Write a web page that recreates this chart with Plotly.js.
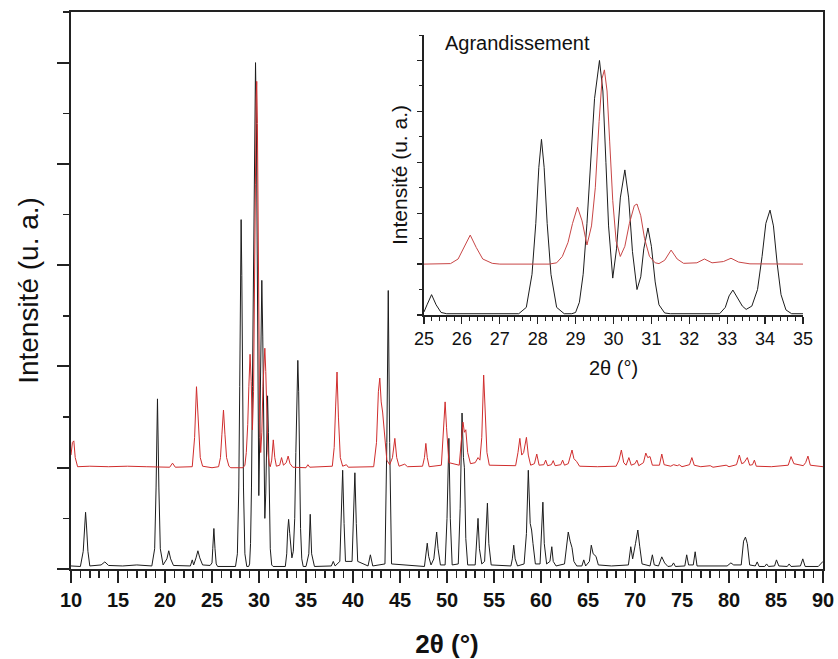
<!DOCTYPE html>
<html><head><meta charset="utf-8">
<script src="https://cdn.plot.ly/plotly-3.0.1.min.js"></script>
<style>html,body{margin:0;padding:0;background:#fff}</style>
</head><body><div id="chart" style="width:838px;height:659px"></div>
<script>
// 2θ (°), intensity (a.u.) — black pattern
const blackPattern = [
[10.0,0.06],[11.0,0.05],[11.3,0.35],[11.45,0.85],[11.55,1.12],[11.65,0.85],[11.8,0.35],[12.0,0.06],
[13.2,0.08],[13.6,0.14],[14.0,0.07],[15.5,0.06],[17.0,0.08],[18.6,0.06],
[18.9,0.4],[19.05,1.6],[19.2,3.36],[19.35,1.6],[19.5,0.4],[19.8,0.08],
[20.2,0.2],[20.4,0.36],[20.6,0.2],[20.9,0.07],[22.7,0.06],[22.9,0.18],[23.05,0.08],
[23.3,0.22],[23.5,0.36],[23.7,0.22],[24.0,0.08],[24.8,0.07],
[25.0,0.12],[25.08,0.4],[25.2,0.8],[25.32,0.4],[25.45,0.1],[25.6,0.05],
[27.5,0.05],[27.7,0.3],[27.85,1.6],[27.95,3.6],[28.03,5.8],[28.1,6.9],[28.17,5.8],[28.25,3.6],[28.35,1.6],[28.5,0.3],[28.7,0.05],
[28.9,0.05],[29.0,0.1],[29.1,0.5],[29.2,1.6],[29.3,3.6],[29.4,6.0],[29.5,8.5],[29.63,10.0],[29.72,8.8],[29.8,6.0],[29.87,3.5],
[29.98,1.45],[30.08,2.6],[30.18,4.6],[30.3,5.7],[30.4,4.6],[30.5,2.5],[30.62,1.0],
[30.72,1.5],[30.8,2.6],[30.91,3.42],[31.0,2.7],[31.1,1.3],[31.2,0.4],[31.35,0.08],[31.5,0.05],
[32.8,0.05],[32.95,0.3],[33.05,0.75],[33.15,0.98],[33.27,0.7],[33.4,0.35],[33.5,0.22],[33.65,0.35],
[33.8,1.0],[33.92,2.3],[34.02,3.6],[34.13,4.12],[34.22,3.5],[34.32,2.0],[34.42,0.8],[34.55,0.2],[34.7,0.05],
[35.0,0.05],[35.3,0.3],[35.45,1.08],[35.6,0.3],[35.9,0.05],
[37.7,0.06],[37.9,0.15],[38.1,0.06],[38.6,0.15],[38.75,0.9],[38.9,1.95],[39.05,0.9],[39.2,0.15],
[39.9,0.15],[40.05,0.9],[40.2,1.9],[40.35,0.9],[40.5,0.15],[41.6,0.06],[41.85,0.28],[42.1,0.06],
[43.4,0.1],[43.6,2.5],[43.75,5.5],[43.9,2.5],[44.1,0.1],
[47.6,0.05],[47.75,0.25],[47.9,0.51],[48.05,0.25],[48.3,0.08],[48.6,0.2],[48.8,0.55],[48.9,0.73],[49.05,0.4],[49.3,0.08],
[49.8,0.08],[50.0,1.0],[50.2,2.58],[50.35,1.0],[50.55,0.08],
[51.2,0.1],[51.4,1.2],[51.6,3.08],[51.75,2.2],[51.85,2.0],[52.0,0.6],[52.2,0.08],
[53.0,0.08],[53.15,0.5],[53.3,1.0],[53.45,0.4],[53.7,0.1],[54.0,0.15],[54.15,0.7],[54.3,1.3],[54.45,0.5],[54.7,0.08],
[56.8,0.06],[56.95,0.2],[57.1,0.47],[57.25,0.2],[57.5,0.06],
[58.2,0.1],[58.45,0.7],[58.65,1.95],[58.85,0.9],[59.0,0.77],[59.15,0.5],[59.4,0.1],
[59.9,0.1],[60.05,0.6],[60.2,1.32],[60.35,0.5],[60.6,0.1],[60.95,0.15],[61.15,0.44],[61.3,0.15],[61.6,0.06],
[62.5,0.1],[62.75,0.45],[62.9,0.73],[63.1,0.55],[63.3,0.42],[63.5,0.15],[63.8,0.06],
[64.35,0.06],[64.55,0.18],[64.75,0.06],[65.15,0.15],[65.35,0.47],[65.55,0.3],[65.85,0.25],[66.1,0.08],
[67.5,0.06],[69.3,0.08],[69.55,0.44],[69.75,0.2],[70.05,0.5],[70.3,0.77],[70.5,0.45],[70.75,0.1],
[71.6,0.06],[71.85,0.28],[72.05,0.08],[72.5,0.06],[72.85,0.24],[73.15,0.12],[73.5,0.05],
[73.9,0.06],[74.1,0.12],[74.3,0.05],[75.3,0.06],[75.5,0.28],[75.7,0.08],[76.2,0.08],[76.4,0.34],[76.6,0.06],
[79.8,0.06],[80.2,0.12],[80.5,0.08],[81.3,0.08],[81.55,0.55],[81.75,0.63],[81.95,0.5],[82.2,0.08],
[82.8,0.06],[83.0,0.14],[83.2,0.05],[83.8,0.05],[84.0,0.1],[84.2,0.05],[84.85,0.06],[85.05,0.18],[85.3,0.06],
[86.2,0.05],[86.4,0.1],[86.6,0.05],[87.6,0.06],[87.85,0.2],[88.1,0.05],[89.5,0.05],[90.0,0.15]
];

// red pattern (offset baseline at 2)
const redPattern = [
[10.0,2.25],[10.15,2.5],[10.3,2.53],[10.45,2.2],[10.7,2.02],[12.0,2.03],[14.0,2.02],[16.0,2.03],[18.0,2.02],
[20.5,2.01],[20.8,2.09],[21.1,2.01],[22.9,2.02],[23.15,2.6],[23.35,3.6],[23.5,3.0],[23.75,2.2],[24.0,2.03],
[25.0,2.0],[25.7,2.02],[25.9,2.2],[26.05,2.65],[26.22,3.14],[26.38,2.65],[26.55,2.2],[26.8,2.03],[27.0,2.0],
[28.3,2.0],[28.5,2.05],[28.65,2.3],[28.8,2.85],[28.92,3.6],[29.05,4.24],[29.17,3.7],[29.3,2.75],
[29.42,3.5],[29.52,5.0],[29.62,7.6],[29.7,9.3],[29.76,9.63],[29.83,8.8],[29.9,6.8],[29.98,4.5],[30.07,2.9],[30.18,2.3],
[30.3,2.7],[30.42,3.6],[30.55,4.3],[30.62,4.36],[30.72,3.9],[30.82,3.0],[30.95,2.3],[31.1,2.05],[31.2,2.02],
[31.35,2.15],[31.52,2.55],[31.68,2.2],[31.85,2.03],[32.2,2.05],[32.4,2.2],[32.6,2.05],[32.9,2.1],[33.1,2.23],[33.3,2.08],[33.6,2.01],
[35.0,2.0],[35.2,2.06],[35.4,2.01],[37.8,2.03],[38.0,2.4],[38.15,3.2],[38.3,3.89],[38.45,3.0],[38.65,2.2],[38.9,2.03],
[39.3,2.06],[39.5,2.01],[42.2,2.02],[42.5,2.5],[42.7,3.5],[42.85,3.77],[43.0,3.3],[43.15,3.1],[43.35,2.6],[43.6,2.15],
[43.9,2.06],[44.2,2.2],[44.45,2.58],[44.65,2.2],[44.9,2.03],[45.5,2.07],[45.8,2.02],
[47.4,2.03],[47.6,2.2],[47.75,2.48],[47.9,2.2],[48.1,2.02],[49.4,2.05],[49.6,2.6],[49.8,3.3],[49.95,2.8],[50.2,2.1],
[51.3,2.05],[51.5,2.5],[51.7,2.9],[51.85,2.7],[52.0,2.75],[52.2,2.3],[52.5,2.08],[53.0,2.1],[53.3,2.2],[53.5,2.15],
[53.7,2.6],[53.9,3.83],[54.05,3.2],[54.25,2.3],[54.5,2.05],
[57.3,2.04],[57.55,2.3],[57.75,2.58],[57.95,2.25],[58.15,2.3],[58.45,2.6],[58.65,2.25],[58.9,2.05],
[59.3,2.08],[59.55,2.27],[59.8,2.05],[60.3,2.06],[60.5,2.15],[60.7,2.04],[61.1,2.06],[61.3,2.14],[61.5,2.04],
[62.1,2.06],[62.3,2.15],[62.5,2.05],[62.9,2.08],[63.15,2.25],[63.3,2.35],[63.5,2.18],[63.8,2.12],[64.1,2.03],
[66.0,2.02],[68.0,2.03],[68.3,2.15],[68.55,2.35],[68.8,2.1],[69.05,2.05],[69.35,2.2],[69.6,2.05],
[70.0,2.08],[70.2,2.15],[70.4,2.04],[70.9,2.1],[71.15,2.29],[71.35,2.2],[71.6,2.22],[71.85,2.05],
[72.6,2.05],[72.85,2.27],[73.1,2.06],[73.8,2.03],[74.1,2.06],[74.5,2.04],[74.7,2.06],[75.0,2.02],
[75.8,2.06],[76.05,2.2],[76.3,2.05],[77.0,2.02],[78.0,2.04],[78.3,2.01],[79.4,2.03],[79.7,2.05],[80.0,2.02],
[80.8,2.06],[81.1,2.25],[81.35,2.08],[81.6,2.1],[81.95,2.2],[82.2,2.05],[82.5,2.06],[82.7,2.15],[82.9,2.03],
[84.5,2.02],[86.3,2.05],[86.6,2.22],[86.9,2.08],[87.9,2.04],[88.15,2.1],[88.4,2.23],[88.65,2.05],[90.0,2.02]
];

const mainTickVals = [10,15,20,25,30,35,40,45,50,55,60,65,70,75,80,85,90];
const insetTickVals = [25,26,27,28,29,30,31,32,33,34,35];
const xTitle = '2θ (°)';
const yTitle = 'Intensité (u. a.)';
const insetLabel = 'Agrandissement';

const bx = blackPattern.map(p => p[0]), by = blackPattern.map(p => p[1]);
const rx = redPattern.map(p => p[0]), ry = redPattern.map(p => p[1]);

const BLACK = '#1c1c1c', RED = 'rgb(208,45,45)', AX = '#222';
const FONT = 'Liberation Sans, Arial, sans-serif';

const traces = [
  {x: bx, y: by, type: 'scatter', mode: 'lines', xaxis: 'x', yaxis: 'y', line: {color: BLACK, width: 1}, hoverinfo: 'skip'},
  {x: rx, y: ry, type: 'scatter', mode: 'lines', xaxis: 'x', yaxis: 'y', line: {color: RED, width: 1}, hoverinfo: 'skip'},
  {x: bx, y: by, type: 'scatter', mode: 'lines', xaxis: 'x2', yaxis: 'y2', line: {color: BLACK, width: 1}, hoverinfo: 'skip'},
  {x: rx, y: ry, type: 'scatter', mode: 'lines', xaxis: 'x2', yaxis: 'y2', line: {color: 'rgb(200,70,70)', width: 1}, hoverinfo: 'skip'}
];

const layout = {
  width: 838, height: 659,
  margin: {l: 71, r: 15, t: 12, b: 90, pad: 0},
  paper_bgcolor: '#fff', plot_bgcolor: 'rgba(0,0,0,0)',
  showlegend: false,
  font: {family: FONT, color: '#111'},
  xaxis: {
    domain: [0, 1], range: [10, 90], anchor: 'y',
    showline: true, linewidth: 2, linecolor: AX, mirror: true,
    ticks: 'outside', ticklen: 12, tickwidth: 2, tickcolor: AX,
    tickvals: mainTickVals, ticktext: mainTickVals.map(String),
    minor: {dtick: 1, tick0: 10, ticks: 'outside', ticklen: 7, tickwidth: 1.5, tickcolor: AX, showgrid: false},
    tickfont: {family: FONT, size: 20, weight: 'bold', color: '#111'},
    showgrid: false, zeroline: false,
    title: {text: xTitle, font: {family: FONT, size: 26, weight: 'bold', color: '#111'}, standoff: 25}
  },
  yaxis: {
    domain: [0, 1], range: [0, 11], anchor: 'x',
    showline: true, linewidth: 2, linecolor: AX, mirror: true,
    ticks: 'outside', ticklen: 12, tickwidth: 2, tickcolor: AX,
    dtick: 2, tick0: 0,
    minor: {dtick: 1, tick0: 0, ticks: 'outside', ticklen: 6, tickwidth: 1.5, tickcolor: AX, showgrid: false},
    showticklabels: false, showgrid: false, zeroline: false,
    title: {text: yTitle, font: {family: FONT, size: 28, color: '#111'}, standoff: 10}
  },
  xaxis2: {
    domain: [0.4694, 0.9734], range: [25, 35], anchor: 'y2',
    showline: true, linewidth: 1.5, linecolor: AX, mirror: false,
    ticks: 'outside', ticklen: 7, tickwidth: 1.2, tickcolor: AX,
    tickvals: insetTickVals, ticktext: insetTickVals.map(String),
    minor: {dtick: 0.2, tick0: 25, ticks: 'outside', ticklen: 4, tickwidth: 1, tickcolor: AX, showgrid: false},
    tickfont: {family: FONT, size: 18, color: '#111'},
    showgrid: false, zeroline: false,
    title: {text: xTitle, font: {family: FONT, size: 20, color: '#111'}, standoff: 13}
  },
  yaxis2: {
    domain: [0.456, 0.9587], range: [0, 11], anchor: 'x2',
    showline: true, linewidth: 1.5, linecolor: AX, mirror: false,
    ticks: 'outside', ticklen: 5, tickwidth: 1.2, tickcolor: AX,
    dtick: 2, tick0: 0,
    minor: {dtick: 1, tick0: 0, ticks: 'outside', ticklen: 3, tickwidth: 1, tickcolor: AX, showgrid: false},
    showticklabels: false, showgrid: false, zeroline: false,
    title: {text: yTitle, font: {family: FONT, size: 21, color: '#111'}, standoff: 4}
  },
  annotations: [
    {text: insetLabel, xref: 'paper', yref: 'paper', x: 0.4947, y: 0.944, xanchor: 'left', yanchor: 'middle',
     showarrow: false, font: {family: FONT, size: 20, color: '#111'}}
  ]
};

Plotly.newPlot('chart', traces, layout, {staticPlot: true, displayModeBar: false});
</script>
</body></html>
